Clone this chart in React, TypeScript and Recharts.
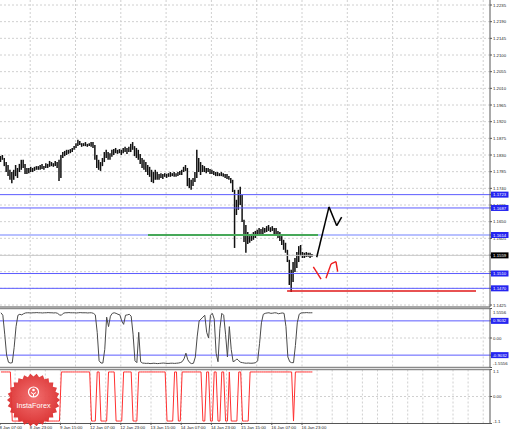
import React from 'react';
import { ComposedChart, Bar, Line, XAxis, YAxis, ReferenceLine, CartesianGrid } from 'recharts';

const FONT = "'Liberation Sans', Arial, sans-serif";

// ---- main pane: hourly bars (high / low) ----
const barHigh = [
  1.1827, 1.1830, 1.1822, 1.1811, 1.1803, 1.1790, 1.1784, 1.1790, 1.1803, 1.1795,
  1.1806, 1.1817, 1.1817, 1.1806, 1.1795, 1.1795, 1.1798, 1.1795, 1.1798, 1.1800,
  1.1800, 1.1803, 1.1806, 1.1800, 1.1808, 1.1806, 1.1814, 1.1811, 1.1808, 1.1814,
  1.1811, 1.1817, 1.1830, 1.1838, 1.1841, 1.1844, 1.1844, 1.1846, 1.1849, 1.1854,
  1.1862, 1.1871, 1.1868, 1.1862, 1.1862, 1.1865, 1.1860, 1.1862, 1.1865, 1.1865,
  1.1857, 1.1830, 1.1817, 1.1811, 1.1822, 1.1838, 1.1844, 1.1838, 1.1835, 1.1844,
  1.1846, 1.1849, 1.1844, 1.1846, 1.1844, 1.1849, 1.1852, 1.1849, 1.1852, 1.1860,
  1.1865, 1.1854, 1.1849, 1.1844, 1.1833, 1.1822, 1.1817, 1.1811, 1.1803, 1.1798,
  1.1790, 1.1784, 1.1790, 1.1784, 1.1779, 1.1781, 1.1779, 1.1781, 1.1779, 1.1781,
  1.1784, 1.1781, 1.1784, 1.1781, 1.1784, 1.1787, 1.1790, 1.1798, 1.1803, 1.1795,
  1.1768, 1.1763, 1.1768, 1.1784, 1.1844, 1.1822, 1.1811, 1.1803, 1.1800, 1.1795,
  1.1795, 1.1792, 1.1790, 1.1787, 1.1784, 1.1784, 1.1781, 1.1784, 1.1781, 1.1779,
  1.1779, 1.1773, 1.1768, 1.1763, 1.1736, 1.1709, 1.1736, 1.1744, 1.1722, 1.1655,
  1.1641, 1.1622, 1.1611, 1.1617, 1.1622, 1.1625, 1.1628, 1.1633, 1.1630, 1.1635,
  1.1633, 1.1638, 1.1641, 1.1635, 1.1638, 1.1633, 1.1633, 1.1625, 1.1622, 1.1611,
  1.1601, 1.1593, 1.1574, 1.1547, 1.1520, 1.1541, 1.1552, 1.1568, 1.1584, 1.1587,
  1.1568, 1.1566, 1.1568, 1.1566, 1.1566, 1.1563,
];
const barLow = [
  1.1811, 1.1817, 1.1800, 1.1784, 1.1773, 1.1763, 1.1754, 1.1763, 1.1773, 1.1768,
  1.1784, 1.1790, 1.1795, 1.1779, 1.1779, 1.1781, 1.1784, 1.1784, 1.1787, 1.1790,
  1.1790, 1.1790, 1.1792, 1.1790, 1.1795, 1.1795, 1.1798, 1.1800, 1.1798, 1.1800,
  1.1795, 1.1760, 1.1768, 1.1822, 1.1827, 1.1830, 1.1833, 1.1835, 1.1838, 1.1844,
  1.1849, 1.1854, 1.1857, 1.1852, 1.1854, 1.1854, 1.1852, 1.1854, 1.1852, 1.1849,
  1.1817, 1.1795, 1.1790, 1.1787, 1.1800, 1.1811, 1.1822, 1.1817, 1.1817, 1.1825,
  1.1830, 1.1835, 1.1833, 1.1835, 1.1830, 1.1835, 1.1838, 1.1833, 1.1838, 1.1838,
  1.1844, 1.1827, 1.1822, 1.1817, 1.1806, 1.1795, 1.1790, 1.1784, 1.1776, 1.1771,
  1.1757, 1.1754, 1.1763, 1.1763, 1.1763, 1.1768, 1.1765, 1.1771, 1.1768, 1.1771,
  1.1771, 1.1773, 1.1771, 1.1771, 1.1773, 1.1776, 1.1776, 1.1784, 1.1787, 1.1746,
  1.1741, 1.1736, 1.1746, 1.1757, 1.1768, 1.1784, 1.1776, 1.1784, 1.1784, 1.1781,
  1.1784, 1.1779, 1.1779, 1.1776, 1.1773, 1.1773, 1.1773, 1.1773, 1.1771, 1.1768,
  1.1765, 1.1763, 1.1754, 1.1730, 1.1579, 1.1668, 1.1682, 1.1695, 1.1649, 1.1595,
  1.1566, 1.1590, 1.1593, 1.1598, 1.1601, 1.1606, 1.1611, 1.1614, 1.1611, 1.1617,
  1.1620, 1.1622, 1.1625, 1.1622, 1.1625, 1.1617, 1.1611, 1.1606, 1.1598, 1.1587,
  1.1574, 1.1566, 1.1541, 1.1479, 1.1460, 1.1487, 1.1514, 1.1525, 1.1541, 1.1557,
  1.1552, 1.1552, 1.1555, 1.1555, 1.1552, 1.1555,
];

// ---- oscillator pane 1 ----
const osc1Values = [
  1.33, 1.2, 0.2, -0.9, -1.28, -1.32, -1.3, -0.5, 0.6, 1.2, 1.25, 1.22, 1.28,
  1.32, 1.33, 1.33, 1.32, 1.33, 1.33, 1.34, 1.33, 1.33, 1.32, 1.33, 1.33, 1.34, 1.33, 1.33, 1.32, 1.33, 1.3,
  1.22, 1.2, 1.3,
  1.33, 1.33, 1.34, 1.33, 1.33, 1.33, 1.32, 1.33, 1.34, 1.33, 1.33, 1.33, 1.32, 1.33, 1.33,
  1.3, 1.22, 0.3, -1.2, -1.32, -1.32, -0.6, 1.1,
  0.6, 1.15, 1.3, 1.33, 1.3, 1.25, 1.22, 0.9, 0.72, 1.2, 1.22, 1.25, 1.15, 0.2, -1.2, -1.3, 0.3, -1.25,
  -1.32, -1.33, -1.34, -1.33, -1.35, -1.34, -1.33, -1.34, -1.35, -1.34, -1.33, -1.32, -1.33, -1.34, -1.34, -1.33, -1.33, -1.34, -1.33, -1.32, -1.3, -1.25,
  -1.1, -0.8, -1.15, -1.3, -1.35, -1.33, -1.0, 0.1, 0.9, 1.0, 1.1, 1.2, 0.3, 0.0, 1.2, 1.3, 1.0, -0.8, -1.25, 0.5,
  1.3, 1.2, 0.2, -1.0, 0.6, -0.6, -1.25, -1.2, -1.1, -1.2, -1.28,
  -1.3, -1.32, -1.33, -1.32, -1.33, -1.33, -1.32, -1.3,
  -1.2, -0.3, 0.8, 1.25,
  1.3, 1.32, 1.33, 1.3, 1.31, 1.33, 1.32, 1.28, 1.3, 1.32, 1.3,
  0.6, -1.0, -1.25, -1.3, -1.3, -0.4, 0.8, 1.25,
  1.32, 1.33, 1.33, 1.34, 1.33, 1.33, 1.33,
];
const osc1Max = 1.5556;
const osc1Levels = [0.9032, -0.9032];

// ---- oscillator pane 2 (signal, runs of [value, bar count]) ----
const osc2Runs: [number, number][] = [
  [1, 6], [-1, 26], [1, 16], [-1, 3], [1, 2], [-1, 4], [1, 4], [-1, 4], [1, 5], [-1, 3],
  [1, 15], [-1, 4], [1, 2], [-1, 2], [1, 11], [-1, 2], [1, 2], [-1, 2], [1, 2], [-1, 2],
  [1, 2], [-1, 2], [1, 1], [-1, 4], [1, 2], [-1, 4], [1, 23], [-1, 1], [1, 10],
];
const osc2Max = 1.1;

// ---- levels / drawings ----
const levelPrices = [1.1723, 1.1687, 1.1614, 1.1510, 1.1470];
const currentPrice = 1.1559;
const priceTicks = [1.2235, 1.2190, 1.2145, 1.2100, 1.2055, 1.2010, 1.1965, 1.1920, 1.1875, 1.1830,
  1.1785, 1.1740, 1.1695, 1.1650, 1.1605, 1.1560, 1.1515, 1.1470, 1.1425];
const hiddenPriceLabels = [1.1560, 1.1515];
const priceDomain: [number, number] = [1.14196, 1.22485];

const forecastIdx = [167.3, 173.8, 177.9, 180.5];
const forecastPrice = [1.1554, 1.1690, 1.1639, 1.1662];

const redArrow: [number, number, number, number][] = [
  [165.5, 1.1528, 169.6, 1.1495],
  [172.2, 1.1497, 174.9, 1.1536],
  [174.9, 1.1536, 177.5, 1.1542],
  [177.5, 1.1542, 178.4, 1.1515],
];
const greenLine = { from: 77.9, to: 168.0, price: 1.1614 };
const redLine = { from: 151.6, to: 251.7, price: 1.1463 };

const timeTickIdx = [-0.5, 15.5, 31.5, 47.5, 63.5, 79.5, 95.5, 111.5, 127.5, 143.5, 159.5];
const timeLabels = ['8 Jan 07:00', '8 Jan 23:00', '9 Jan 15:00', '12 Jan 07:00', '12 Jan 23:00',
  '13 Jan 15:00', '14 Jan 07:00', '14 Jan 23:00', '15 Jan 15:00', '16 Jan 07:00', '16 Jan 23:00'];

const xDomain: [number, number] = [-0.5, 259.1];
const gridIdx = Array.from({ length: 32 }, (_, k) => -0.5 + 8 * (k + 1));

// ---- built tables ----
const candles = barHigh.map((h, i) => ({ i, range: [barLow[i], h] }));
const osc1Data = osc1Values.map((v, i) => ({ i, v }));
const osc2Values: number[] = [];
osc2Runs.forEach(([v, n]) => { for (let k = 0; k < n; k++) osc2Values.push(v); });
const osc2Data = osc2Values.map((s, i) => ({ i, s }));
const forecastSegs = forecastIdx.slice(1).map((x, k) => [forecastIdx[k], forecastPrice[k], x, forecastPrice[k + 1]]);

const GRID = '#d0d0d0';
const LEVEL = '#5c5cff';
const BOX = '#2525f0';
const SEP = '#8a8a8a';
const FS = 4.3;

const CandleShape = (props: any) => {
  const { x, y, width, height } = props;
  if (x == null || y == null || isNaN(y)) return null;
  const cx = x + width / 2;
  return <line x1={cx} x2={cx} y1={y} y2={y + Math.max(height, 1)} stroke="#111" strokeWidth={1.5} />;
};

const boxLabel = (x: number, y: number, text: string, fill: string) => (
  <g>
    <rect x={x - 2} y={y - 3} width={17.5} height={6} fill={fill} />
    <text x={x + 6.7} y={y + 1.6} fontSize={FS} fill="#fff" textAnchor="middle" fontFamily={FONT}>{text}</text>
  </g>
);

const mainTick = (p: any) => {
  const v = p.payload.value;
  if (v === currentPrice) return boxLabel(p.x, p.y, v.toFixed(4), '#000');
  if (levelPrices.includes(v)) return boxLabel(p.x, p.y, v.toFixed(4), BOX);
  if (hiddenPriceLabels.includes(v)) return <g />;
  return <text x={p.x} y={p.y + 1.5} fontSize={FS} fill="#222" fontFamily={FONT}>{v.toFixed(4)}</text>;
};

const osc1Tick = (p: any) => {
  const v = p.payload.value;
  const label = v === 0 ? '0.00' : v.toFixed(4);
  if (osc1Levels.includes(v)) return boxLabel(p.x, p.y, label, BOX);
  let y = p.y;
  if (v === osc1Max) y += 3.5;
  if (v === -osc1Max) y -= 4;
  return <text x={p.x} y={y + 1.5} fontSize={FS} fill="#222" fontFamily={FONT}>{label}</text>;
};

const osc2Tick = (p: any) => {
  const v = p.payload.value;
  const label = v === 0 ? '0.00' : v.toFixed(1);
  let y = p.y;
  if (v === osc2Max) y += 2;
  if (v === -osc2Max) y -= 2.5;
  return <text x={p.x} y={y + 1.5} fontSize={FS} fill="#222" fontFamily={FONT}>{label}</text>;
};

const timeTick = (p: any) => {
  const k = timeTickIdx.indexOf(p.payload.value);
  return <text x={p.x - 0.5} y={p.y + 3.5} fontSize={FS} fill="#222" fontFamily={FONT}>{timeLabels[k]}</text>;
};

const Logo = () => {
  const cx = 33.5, cy = 400, R = 26.5, r = 23.5, n = 26;
  const pts: string[] = [];
  for (let k = 0; k < n * 2; k++) {
    const a = (Math.PI * k) / n;
    const rr = k % 2 === 0 ? R : r;
    pts.push(`${cx + rr * Math.cos(a)},${cy + rr * Math.sin(a)}`);
  }
  return (
    <svg width={510} height={432} style={{ position: 'absolute', left: 0, top: 0, pointerEvents: 'none' }}>
      <defs>
        <radialGradient id="lg" cx="50%" cy="45%" r="55%">
          <stop offset="0%" stopColor="#f26a6a" />
          <stop offset="100%" stopColor="#d92a2a" />
        </radialGradient>
      </defs>
      <polygon points={pts.join(' ')} fill="url(#lg)" opacity={0.95} />
      <circle cx={cx} cy={392} r={5} fill="none" stroke="#fff" strokeWidth={1.2} />
      <circle cx={cx} cy={390} r={1.3} fill="#fff" />
      <path d={`M${cx - 2.5},${392.5} L${cx},${394} L${cx + 2.5},${392.5} M${cx},${394} L${cx},${397}`} stroke="#fff" strokeWidth={1} fill="none" />
      <text x={cx} y={407.5} fontSize={7.2} fill="#fff" textAnchor="middle" fontFamily={FONT}>InstaForex</text>
    </svg>
  );
};

export default function App() {
  const mainYTicks = [...priceTicks.filter((t) => !levelPrices.includes(t)), ...levelPrices, currentPrice];
  return (
    <div style={{ position: 'absolute', left: 0, top: 0, width: 510, height: 432, background: '#fff', overflow: 'hidden' }}>
      <div style={{ position: 'absolute', left: 0, top: 0 }}>
        <ComposedChart width={510} height={308} data={candles} margin={{ top: 0, right: 0, bottom: 1, left: 0 }}>
          <CartesianGrid horizontalValues={priceTicks} verticalValues={gridIdx} stroke={GRID} strokeDasharray="2 2" />
          <XAxis dataKey="i" type="number" domain={xDomain} hide allowDataOverflow />
          <YAxis orientation="right" width={20} type="number" domain={priceDomain} allowDataOverflow
            ticks={mainYTicks} interval={0} tick={mainTick} tickSize={2} tickMargin={1}
            tickLine={{ stroke: '#555' }} axisLine={{ stroke: '#555' }} />
          <ReferenceLine y={1.1614} stroke="#b8c0ff" strokeWidth={2} />
          {levelPrices.filter((v) => v !== 1.1614).map((v) => (
            <ReferenceLine key={v} y={v} stroke={LEVEL} strokeWidth={1} />
          ))}
          <ReferenceLine y={currentPrice} stroke="#c8c8c8" strokeWidth={1} />
          <ReferenceLine segment={[{ x: greenLine.from, y: greenLine.price }, { x: greenLine.to, y: greenLine.price }]} stroke="#22a022" strokeWidth={1.4} />
          <ReferenceLine segment={[{ x: redLine.from, y: redLine.price }, { x: redLine.to, y: redLine.price }]} stroke="#e01818" strokeWidth={1.5} />
          <ReferenceLine y={priceDomain[0]} stroke={SEP} strokeWidth={1.5} />
          <Bar dataKey="range" barSize={1} shape={CandleShape} isAnimationActive={false} />
          {forecastSegs.map((s, k) => (
            <ReferenceLine key={'f' + k} segment={[{ x: s[0], y: s[1] }, { x: s[2], y: s[3] }]} stroke="#000" strokeWidth={1.5} />
          ))}
          {redArrow.map((s, k) => (
            <ReferenceLine key={'r' + k} segment={[{ x: s[0], y: s[1] }, { x: s[2], y: s[3] }]} stroke="#ee1c1c" strokeWidth={1.4} />
          ))}
        </ComposedChart>
      </div>
      <div style={{ position: 'absolute', left: 0, top: 308 }}>
        <ComposedChart width={510} height={60} data={osc1Data} margin={{ top: 0.5, right: 0, bottom: 0.5, left: 0 }}>
          <CartesianGrid horizontalValues={[0]} verticalValues={gridIdx} stroke={GRID} strokeDasharray="2 2" />
          <XAxis dataKey="i" type="number" domain={xDomain} hide allowDataOverflow />
          <YAxis orientation="right" width={20} type="number" domain={[-osc1Max, osc1Max]} allowDataOverflow
            ticks={[osc1Max, 0, -osc1Max, ...osc1Levels]} interval={0} tick={osc1Tick} tickSize={2} tickMargin={1}
            tickLine={{ stroke: '#555' }} axisLine={{ stroke: '#555' }} />
          <ReferenceLine y={osc1Max} stroke={SEP} strokeWidth={1.5} />
          <ReferenceLine y={-osc1Max} stroke={SEP} strokeWidth={1.5} />
          {osc1Levels.map((v) => <ReferenceLine key={v} y={v} stroke={LEVEL} strokeWidth={1} />)}
          <Line dataKey="v" stroke="#4a4a4a" strokeWidth={1} dot={false} activeDot={false} isAnimationActive={false} />
        </ComposedChart>
      </div>
      <div style={{ position: 'absolute', left: 0, top: 368 }}>
        <ComposedChart width={510} height={64} data={osc2Data} margin={{ top: 1.5, right: 0, bottom: 0.5, left: 0 }}>
          <CartesianGrid horizontalValues={[0]} verticalValues={gridIdx} stroke={GRID} strokeDasharray="2 2" />
          <XAxis dataKey="i" type="number" domain={xDomain} allowDataOverflow height={8}
            ticks={timeTickIdx} interval={0} tick={timeTick} tickSize={1.5} tickMargin={0}
            tickLine={{ stroke: '#555' }} axisLine={{ stroke: '#555' }} />
          <YAxis orientation="right" width={20} type="number" domain={[-osc2Max, osc2Max]} allowDataOverflow
            ticks={[osc2Max, 0, -osc2Max]} interval={0} tick={osc2Tick} tickSize={2} tickMargin={1}
            tickLine={{ stroke: '#555' }} axisLine={{ stroke: '#555' }} />
          <ReferenceLine y={osc2Max} stroke={SEP} strokeWidth={1.5} />
          <Line dataKey="s" stroke="#ff3030" strokeWidth={1} dot={false} activeDot={false} isAnimationActive={false} />
        </ComposedChart>
      </div>
      <Logo />
    </div>
  );
}
